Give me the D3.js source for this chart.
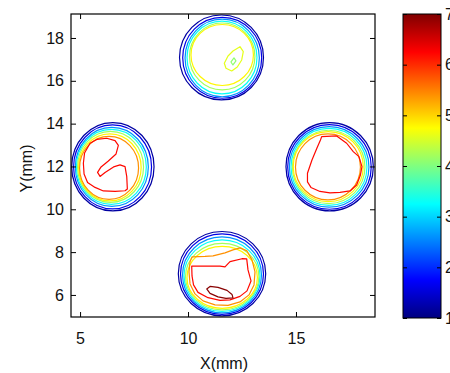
<!DOCTYPE html>
<html>
<head>
<meta charset="utf-8">
<script src="https://cdn.jsdelivr.net/npm/d3@7"></script>
<style>
  html, body { margin: 0; padding: 0; background: #fff; overflow: hidden; }
  svg { display: block; }
  text { font-family: "Liberation Sans", Arial, Helvetica, sans-serif; fill: #111; }
</style>
</head>
<body>
<svg id="chart" width="450" height="373"></svg>
<script>
// ---- axis ranges and ticks (mm) ----
const xRange = [4.58, 18.66];
const yRange = [4.97, 19.12];
const xTicks = [5, 10, 15];
const yTicks = [6, 8, 10, 12, 14, 16, 18];
const colorTicks = [1, 2, 3, 4, 5, 6, 7];
const colorRange = [1, 7];

// ---- contour levels of the concentric rings, outermost first ----
const ringLevels = [1.2, 1.6, 2.6, 3.3, 4.2, 4.8, 5.4];

// rings of each spot as [cx, cy, rx, ry] in mm, same order as ringLevels
const topRings = [
  [11.551, 17.090, 1.944, 1.984],
  [11.583, 17.076, 1.829, 1.891],
  [11.583, 17.066, 1.720, 1.810],
  [11.574, 17.090, 1.620, 1.700],
  [11.583, 17.136, 1.515, 1.564],
  [11.583, 17.206, 1.446, 1.424]
];
const leftRings = [
  [6.519, 11.987, 1.907, 2.063],
  [6.505, 11.978, 1.806, 1.961],
  [6.472, 11.978, 1.690, 1.844],
  [6.449, 11.978, 1.620, 1.751],
  [6.412, 11.978, 1.528, 1.657],
  [6.380, 11.954, 1.449, 1.564],
  [6.343, 11.931, 1.366, 1.471]
];
const rightRings = [
  [16.560, 11.987, 2.023, 2.063],
  [16.551, 11.978, 1.935, 1.975],
  [16.537, 11.978, 1.843, 1.881],
  [16.528, 11.978, 1.759, 1.797],
  [16.514, 11.978, 1.681, 1.713],
  [16.495, 11.992, 1.620, 1.634],
  [16.481, 11.978, 1.505, 1.541]
];
const bottomRings = [
  [11.574, 6.992, 2.023, 1.970],
  [11.574, 6.973, 1.921, 1.877],
  [11.574, 6.936, 1.829, 1.774],
  [11.574, 6.903, 1.759, 1.667],
  [11.583, 6.856, 1.699, 1.550],
  [11.583, 6.819, 1.630, 1.447]
];

// ---- irregular inner contours, [x, y] in mm ----
const topPeakOuter = [
  [11.681, 16.819], [11.852, 17.160], [12.083, 17.393], [12.407, 17.594],
  [12.560, 17.360], [12.486, 16.973], [12.282, 16.646], [12.023, 16.459],
  [11.759, 16.585]
];
const topPeakInner = [
  [11.990, 16.880], [12.130, 17.070], [12.220, 16.930], [12.080, 16.740]
];
const leftCore = [
  [5.463, 13.084], [5.773, 13.261], [6.236, 13.317], [6.620, 13.205],
  [6.773, 12.981], [6.667, 12.585], [6.310, 12.258], [5.972, 11.978],
  [5.810, 11.721], [5.926, 11.534], [6.157, 11.721], [6.551, 11.978],
  [6.852, 12.071], [7.083, 11.992], [7.162, 11.525], [7.190, 10.951],
  [7.083, 10.866], [6.620, 10.834], [6.079, 10.857], [5.694, 11.021],
  [5.347, 11.254], [5.185, 11.651], [5.153, 12.150], [5.208, 12.631]
];
const rightCore = [
  [16.190, 13.392], [16.884, 13.425], [17.347, 13.084], [17.653, 12.692],
  [17.917, 12.459], [18.056, 11.992], [17.986, 11.604], [17.810, 11.137],
  [17.500, 10.857], [17.037, 10.787], [16.574, 10.764], [16.111, 10.834],
  [15.694, 11.021], [15.532, 11.277], [15.532, 11.683], [15.741, 12.304],
  [15.972, 12.865], [16.134, 13.238]
];
const bottomShoulder = [
  [10.185, 7.776], [10.787, 7.799], [11.157, 7.823], [11.713, 7.963],
  [12.083, 8.103], [12.407, 8.196], [12.731, 8.056], [12.963, 7.636],
  [13.102, 7.076], [13.056, 6.469], [12.824, 6.002], [12.407, 5.675],
  [11.852, 5.512], [11.250, 5.535], [10.694, 5.722], [10.324, 6.049],
  [10.093, 6.516], [10.046, 7.076], [10.093, 7.543]
];
const bottomCore = [
  [10.171, 7.342], [11.481, 7.342], [11.713, 7.309], [11.944, 7.556],
  [12.500, 7.692], [12.718, 7.683], [12.778, 7.169], [12.917, 6.655],
  [12.731, 6.189], [12.407, 5.932], [11.944, 5.769], [11.481, 5.745],
  [10.926, 5.871], [10.463, 6.119], [10.255, 6.469], [10.185, 6.889]
];
const bottomPeak = [
  [10.866, 6.282], [11.019, 6.399], [11.389, 6.352], [11.806, 6.212],
  [12.037, 6.025], [12.083, 5.862], [11.759, 5.838], [11.389, 5.908],
  [11.019, 6.072]
];
const traceLevels = [4.6, 4.1, 6.2, 6.2, 5.4, 6.2, 6.95];
const traceShapes = [topPeakOuter, topPeakInner, leftCore, rightCore,
                     bottomShoulder, bottomCore, bottomPeak];

// ---- layout ----
const plot = { left: 71, right: 375, top: 14, bottom: 317 };
const bar = { left: 403, right: 441, top: 14, bottom: 318 };
const fontSize = 16;
const lineWidth = 1.2;

const svg = d3.select("#chart");
svg.append("rect").attr("width", 450).attr("height", 373).attr("fill", "#fff");

const x = d3.scaleLinear().domain(xRange).range([plot.left, plot.right]);
const y = d3.scaleLinear().domain(yRange).range([plot.bottom, plot.top]);

// jet colormap, piecewise linear in RGB
const jetT = [0, 0.125, 0.375, 0.625, 0.875, 1];
const jetColors = ["#000080", "#0000ff", "#00ffff", "#ffff00", "#ff0000", "#800000"];
const color = d3.scaleLinear()
  .domain(jetT.map(t => colorRange[0] + t * (colorRange[1] - colorRange[0])))
  .range(jetColors)
  .interpolate(d3.interpolateRgb)
  .clamp(true);

// ---- contour rings ----
const g = svg.append("g");
const ringSets = [topRings, leftRings, rightRings, bottomRings];
ringSets.forEach(rings => {
  g.selectAll(null)
    .data(rings.map((r, i) => ({ r, level: ringLevels[i] })))
    .join("ellipse")
    .attr("cx", d => x(d.r[0]))
    .attr("cy", d => y(d.r[1]))
    .attr("rx", d => x(d.r[0] + d.r[2]) - x(d.r[0]))
    .attr("ry", d => y(d.r[1]) - y(d.r[1] + d.r[3]))
    .attr("fill", "none")
    .attr("stroke", d => color(d.level))
    .attr("stroke-width", lineWidth);
});

// ---- irregular contours ----
const line = d3.line().x(d => x(d[0])).y(d => y(d[1])).curve(d3.curveLinearClosed);
g.selectAll(null)
  .data(traceShapes.map((pts, i) => ({ pts, level: traceLevels[i] })))
  .join("path")
  .attr("d", d => line(d.pts))
  .attr("fill", "none")
  .attr("stroke", d => color(d.level))
  .attr("stroke-width", lineWidth)
  .attr("stroke-linejoin", "round");

// ---- axes (ticks point inward, mirrored on the opposite sides) ----
const tick = 5;
const styleAxis = sel => {
  sel.select(".domain").remove();
  sel.selectAll(".tick line").attr("stroke", "#000");
  sel.selectAll(".tick text").attr("font-size", fontSize)
     .attr("font-family", "Liberation Sans, Arial, sans-serif").attr("fill", "#111");
};

svg.append("g").attr("transform", `translate(0,${plot.bottom})`)
  .call(d3.axisBottom(x).tickValues(xTicks).tickSize(-tick).tickPadding(16).tickFormat(d3.format("d")))
  .call(styleAxis);
svg.append("g").attr("transform", `translate(0,${plot.top})`)
  .call(d3.axisTop(x).tickValues(xTicks).tickSize(-tick).tickFormat(""))
  .call(styleAxis);
svg.append("g").attr("transform", `translate(${plot.left},0)`)
  .call(d3.axisLeft(y).tickValues(yTicks).tickSize(-tick).tickPadding(7).tickFormat(d3.format("d")))
  .call(styleAxis);
svg.append("g").attr("transform", `translate(${plot.right},0)`)
  .call(d3.axisRight(y).tickValues(yTicks).tickSize(-tick).tickFormat(""))
  .call(styleAxis);

svg.append("rect")
  .attr("x", plot.left).attr("y", plot.top)
  .attr("width", plot.right - plot.left).attr("height", plot.bottom - plot.top)
  .attr("fill", "none").attr("stroke", "#000").attr("stroke-width", 1.2);

// axis titles
svg.append("text")
  .attr("x", (plot.left + plot.right) / 2 + 1).attr("y", 369)
  .attr("text-anchor", "middle").attr("font-size", fontSize)
  .text("X(mm)");
svg.append("text")
  .attr("transform", `translate(32,${(plot.top + plot.bottom) / 2 + 3}) rotate(-90)`)
  .attr("text-anchor", "middle").attr("font-size", fontSize)
  .text("Y(mm)");

// ---- colour bar ----
const cy = d3.scaleLinear().domain(colorRange).range([bar.bottom, bar.top]);
const defs = svg.append("defs");
const grad = defs.append("linearGradient").attr("id", "jet")
  .attr("x1", 0).attr("y1", 1).attr("x2", 0).attr("y2", 0);
grad.selectAll("stop")
  .data(jetT)
  .join("stop")
  .attr("offset", d => d)
  .attr("stop-color", (d, i) => jetColors[i]);

svg.append("rect")
  .attr("x", bar.left).attr("y", bar.top)
  .attr("width", bar.right - bar.left).attr("height", bar.bottom - bar.top)
  .attr("fill", "url(#jet)").attr("stroke", "#000").attr("stroke-width", 1);

svg.append("g").attr("transform", `translate(${bar.right},0)`)
  .call(d3.axisRight(cy).tickValues(colorTicks).tickSize(-4).tickPadding(4).tickFormat(d3.format("d")))
  .call(styleAxis);
svg.append("g").attr("transform", `translate(${bar.left},0)`)
  .call(d3.axisLeft(cy).tickValues(colorTicks).tickSize(-4).tickFormat(""))
  .call(styleAxis);
</script>
</body>
</html>
